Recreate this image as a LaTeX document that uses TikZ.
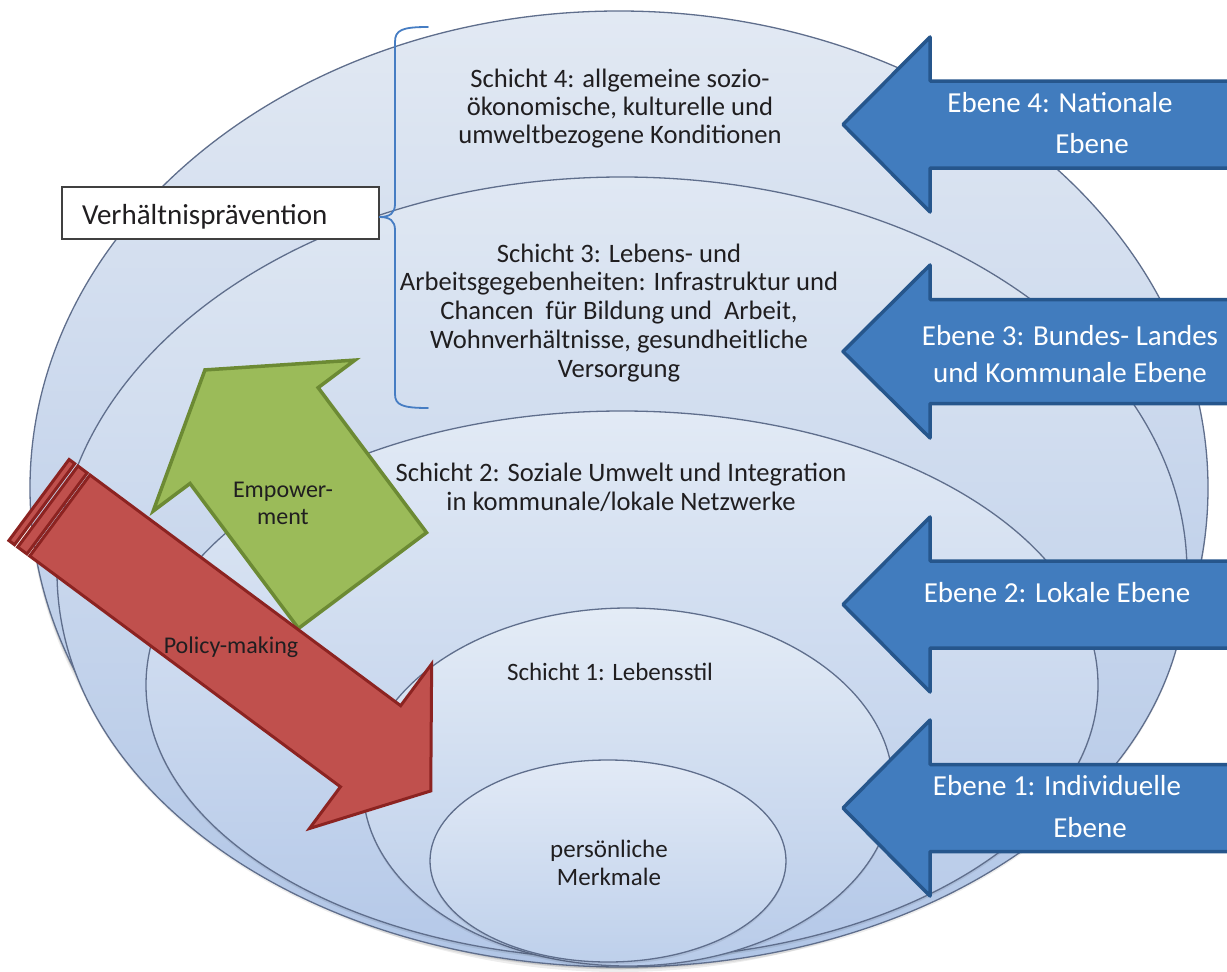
\documentclass[tikz,border=0pt]{standalone}
\usepackage{fontspec}
\setmainfont{Carlito}
\usetikzlibrary{calc}
\definecolor{layerline}{RGB}{95,110,140}
\definecolor{inkdark}{RGB}{32,30,32}
\definecolor{bluefill}{RGB}{65,124,190}
\definecolor{blueedge}{RGB}{38,86,140}
\definecolor{redfill}{RGB}{192,80,77}
\definecolor{rededge}{RGB}{140,35,33}
\definecolor{greenfill}{RGB}{155,187,89}
\definecolor{greenedge}{RGB}{108,138,52}
\definecolor{bracecol}{RGB}{70,125,195}
% block arrow pointing left: #1 centre y, #2 half head height, #3 half shaft height
\newcommand\ebenepfeil[3]{%
  \draw[levelarrow] (843,#1) -- (930,#1-#2) -- (930,#1-#3) -- (1245,#1-#3)
    -- (1245,#1+#3) -- (930,#1+#3) -- (930,#1+#2) -- cycle;}
% one layer ellipse with a faint shadow below it
\newcommand\schichtoval[6]{%
  \fill[black,opacity=0.07] (#1,#2+2.5) ellipse [x radius=#3, y radius=#4];
  \path[layer, top color=#5, bottom color=#6] (#1,#2) ellipse [x radius=#3, y radius=#4];}
\begin{document}
\begin{tikzpicture}[x=1pt,y=-1pt,
  layer/.style={draw=layerline, line width=1.3pt},
  layertext/.style={text=inkdark, align=center, inner sep=0pt, anchor=base,
    font=\fontsize{26.6}{28.7}\selectfont},
  innertext/.style={layertext, font=\fontsize{25}{28}\selectfont},
  levelarrow/.style={fill=bluefill, draw=blueedge, line width=3.5pt, line join=round},
  leveltext/.style={text=white, align=center, inner sep=0pt, anchor=base,
    font=\fontsize{29}{37}\selectfont},
  policy/.style={fill=redfill, draw=rededge, line width=3pt, line join=miter},
  empower/.style={fill=greenfill, draw=greenedge, line width=3.5pt, line join=miter},
  arrowtext/.style={text=inkdark, align=center, inner sep=0pt, anchor=base,
    font=\fontsize{24}{27}\selectfont},
  framebox/.style={draw=black!75, line width=1.3pt, fill=white, inner xsep=20pt,
    inner ysep=0pt, text width=277pt, minimum height=52pt, align=left,
    text height=24pt, text depth=2pt, text=inkdark, font=\fontsize{29}{34}\selectfont},
  bracket/.style={draw=bracecol, line width=1.8pt, line cap=round, line join=round}]

\useasboundingbox (0,0) rectangle (1227,972);
\clip (0,0) rectangle (1227,972);
\fill[white] (0,0) rectangle (1227,972);

% soft shadow under the outermost layer
\fill[black,opacity=0.07] (619,495) ellipse [x radius=589, y radius=477];
\fill[black,opacity=0.09] (619,492) ellipse [x radius=589, y radius=477];
% nested layers, outside in
\schichtoval{619}{488}{589}{477}{{rgb,255:red,226;green,233;blue,243}}{{rgb,255:red,172;green,194;blue,229}}
\schichtoval{622}{572}{565}{395}{{rgb,255:red,224;green,232;blue,243}}{{rgb,255:red,176;green,197;blue,230}}
\schichtoval{622}{685}{476}{274}{{rgb,255:red,226;green,234;blue,245}}{{rgb,255:red,180;green,200;blue,232}}
\schichtoval{628}{787}{265}{179}{{rgb,255:red,228;green,236;blue,246}}{{rgb,255:red,184;green,203;blue,233}}
\schichtoval{608}{861}{178}{101}{{rgb,255:red,226;green,234;blue,246}}{{rgb,255:red,190;green,208;blue,235}}

% layer captions (base anchor sits on the last line)
\node[layertext, font=\fontsize{26.6}{28}\selectfont] (s4) at (620,143) {Schicht 4: allgemeine sozio-\\ökonomische, kulturelle und\\umweltbezogene Konditionen};
\node[layertext] (s3) at (619,377) {Schicht 3: Lebens- und\\Arbeitsgegebenheiten: Infrastruktur und\\Chancen~ für Bildung und~ Arbeit,\\Wohnverhältnisse, gesundheitliche\\Versorgung};
\node[layertext, font=\fontsize{26.6}{29}\selectfont] (s2) at (621,510) {Schicht 2: Soziale Umwelt und Integration\\in kommunale/lokale Netzwerke};
\node[innertext] (s1) at (610,680) {Schicht 1: Lebensstil};
\node[innertext] (pm) at (609,885) {persönliche\\Merkmale};

% label box and brace over layers 3 and 4
\node[framebox] (vp) at (220.5,213) {Verhältnisprävention};
\coordinate (bt) at ($(vp.east)+(0,4)$);
\draw[bracket] (428,27) .. controls (402,27) and (395,30) .. (395,42) -- (395,204)
  .. controls (395,213) and (390,217) .. (bt)
  .. controls (390,217) and (395,221) .. (395,230) -- (395,394)
  .. controls (395,405) and (402,408) .. (428,408);

% level arrows from the right
\ebenepfeil{124.5}{87.5}{43.5}
\ebenepfeil{351.5}{86.5}{52}
\ebenepfeil{604.5}{87.5}{43.5}
\ebenepfeil{808}{88}{43.5}
\node[leveltext] (e4a) at (1060,112) {Ebene 4: Nationale};
\node[leveltext] (e4b) at (1092,153) {Ebene};
\node[leveltext] (e3) at (1070,382) {Ebene 3: Bundes- Landes\\und Kommunale Ebene};
\node[leveltext] (e2) at (1057,602) {Ebene 2: Lokale Ebene};
\node[leveltext] (e1a) at (1057,795) {Ebene 1: Individuelle};
\node[leveltext] (e1b) at (1090,837) {Ebene};

% empowerment arrow
\begin{scope}[shift={(362.5,580.5)}, rotate=126.8]
  \draw[empower] (0,-80) -- (181,-80) -- (181,-126) -- (263,0) -- (181,126)
    -- (181,80) -- (0,80) -- cycle;
\end{scope}
\node[arrowtext] (emp) at (283,524) {Empower-\\ment};

% striped policy-making arrow
\begin{scope}[shift={(39,500)}, rotate=-36.6]
  \draw[policy] (0,-50.5) rectangle (7,50.5);
  \draw[policy] (11,-50.5) rectangle (22.5,50.5);
  \draw[policy] (26,-50.5) -- (413,-50.5) -- (413,-102.5) -- (488,0) -- (413,102.5)
    -- (413,50.5) -- (26,50.5) -- cycle;
\end{scope}
\node[arrowtext] (pol) at (231,653) {Policy-making};

\end{tikzpicture}
\end{document}
